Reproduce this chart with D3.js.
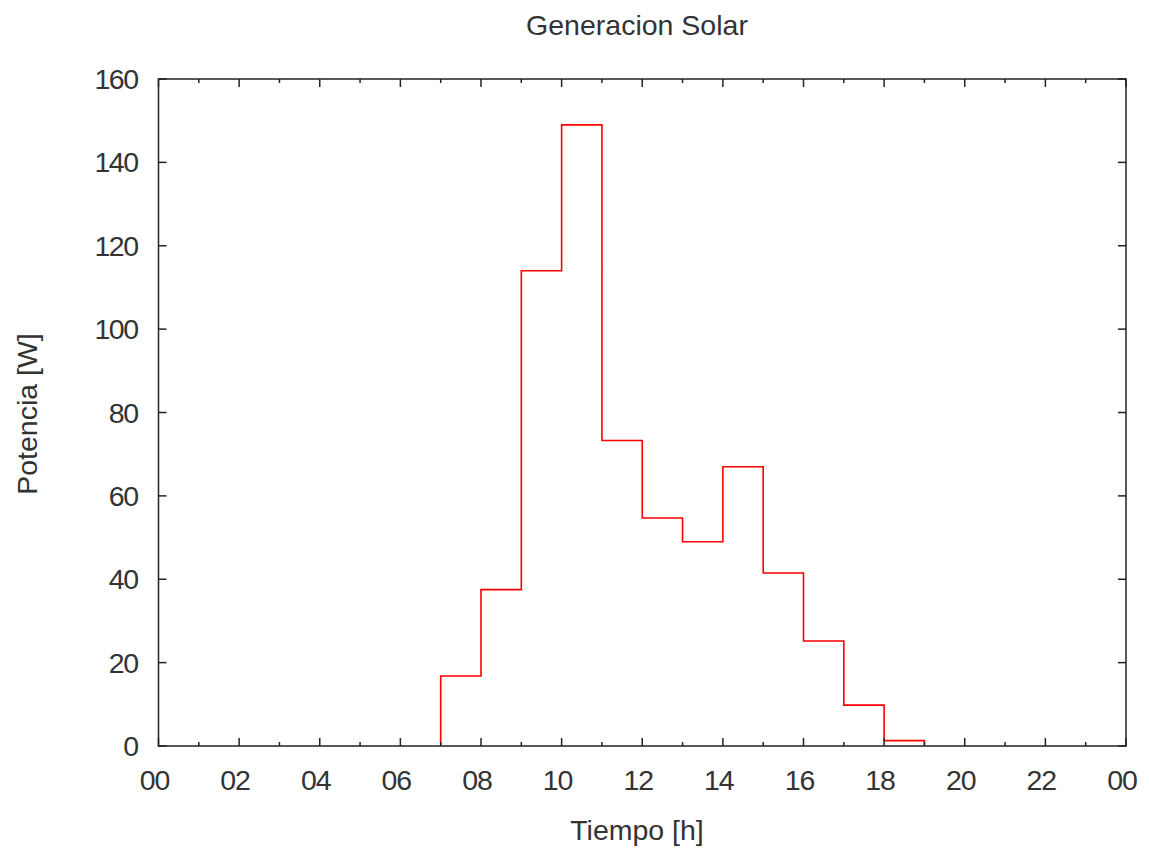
<!DOCTYPE html>
<html>
<head>
<meta charset="utf-8">
<script src="https://cdn.jsdelivr.net/npm/d3@7"></script>
<style>
  body { margin: 0; background: #fff; }
  text { font-family: "Liberation Sans", Arial, sans-serif; fill: #333; }
</style>
</head>
<body>
<script>
// hourly values
const hours = [0,1,2,3,4,5,6,7,8,9,10,11,12,13,14,15,16,17,18,19,20,21,22,23,24];
const power = [0,0,0,0,0,0,0,16.8,37.5,114,149,73.3,54.7,49,67,41.5,25.2,9.8,1.3,0,0,0,0,0,0];
const xTicks = [0,2,4,6,8,10,12,14,16,18,20,22,24];
const yTicks = [0,20,40,60,80,100,120,140,160];

const width = 1149, height = 850;
const margin = {top: 79, right: 23, bottom: 104, left: 158.5};
const fs = 28.5;

const svg = d3.select("body").append("svg").attr("width", width).attr("height", height);

const x = d3.scaleLinear().domain([0, 24]).range([margin.left, width - margin.right]);
const y = d3.scaleLinear().domain([0, 160]).range([height - margin.bottom, margin.top]);

// keep the zero stretches hidden under the border
svg.append("clipPath").attr("id", "plotclip")
  .append("rect").attr("x", x(0)).attr("y", y(160))
  .attr("width", x(24) - x(0)).attr("height", y(0) - y(160) - 1);

// the step line
const line = d3.line().x((d, i) => x(hours[i])).y(d => y(d)).curve(d3.curveStepAfter);
svg.append("path").datum(power)
  .attr("clip-path", "url(#plotclip)")
  .attr("fill", "none")
  .attr("stroke", "#ff0000")
  .attr("stroke-width", 1.6)
  .attr("d", line);

const tickColor = "#222";
// ticks on all four sides, like gnuplot's border
const g = svg.append("g").attr("stroke", tickColor).attr("stroke-width", 1.5);
d3.range(0, 25).forEach(h => {
  const len = h % 2 === 0 ? 8 : 4;
  g.append("line").attr("x1", x(h)).attr("x2", x(h)).attr("y1", y(0)).attr("y2", y(0) - len);
  g.append("line").attr("x1", x(h)).attr("x2", x(h)).attr("y1", y(160)).attr("y2", y(160) + len);
});
yTicks.forEach(v => {
  g.append("line").attr("x1", x(0)).attr("x2", x(0) + 8).attr("y1", y(v)).attr("y2", y(v));
  g.append("line").attr("x1", x(24)).attr("x2", x(24) - 8).attr("y1", y(v)).attr("y2", y(v));
});
svg.append("rect")
  .attr("x", x(0)).attr("y", y(160))
  .attr("width", x(24) - x(0)).attr("height", y(0) - y(160))
  .attr("fill", "none").attr("stroke", tickColor).attr("stroke-width", 1.5);

// tick labels
svg.append("g").selectAll("text").data(xTicks).join("text")
  .attr("x", d => x(d) - 4).attr("y", y(0) + 44)
  .attr("text-anchor", "middle").attr("font-size", fs)
  .attr("letter-spacing", -1)
  .text(d => d3.format("02d")(d % 24));

svg.append("g").selectAll("text").data(yTicks).join("text")
  .attr("x", x(0) - 21).attr("y", d => y(d) + 10)
  .attr("text-anchor", "end").attr("font-size", fs)
  .attr("letter-spacing", -1.5)
  .text(d => d);

// titles
svg.append("text").attr("x", 637).attr("y", 35)
  .attr("text-anchor", "middle").attr("font-size", fs).text("Generacion Solar");
svg.append("text").attr("x", 637).attr("y", 840)
  .attr("text-anchor", "middle").attr("font-size", fs).text("Tiempo [h]");
svg.append("text").attr("transform", "translate(37,414) rotate(-90)")
  .attr("text-anchor", "middle").attr("font-size", fs).text("Potencia [W]");
</script>
</body>
</html>
